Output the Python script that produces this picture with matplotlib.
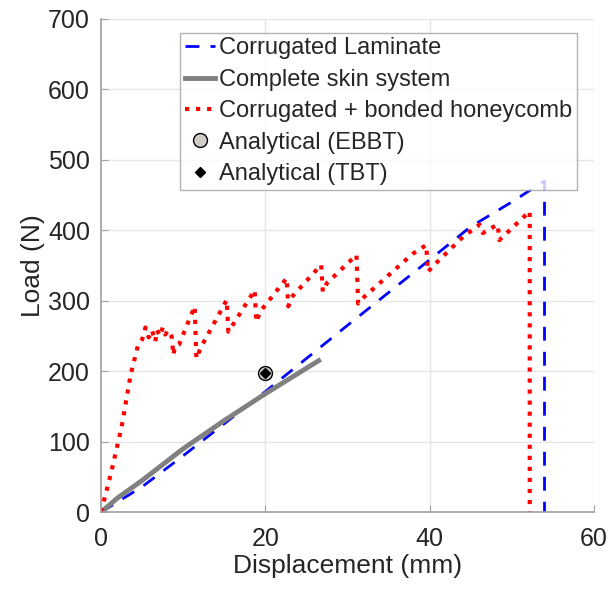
import numpy as np
import matplotlib.pyplot as plt

plt.rcParams['font.family'] = ['Liberation Sans', 'DejaVu Sans']

# Corrugated laminate (blue dashed)
lam_x = [0, 5, 10, 20, 30, 40, 45, 50, 54, 54]
lam_y = [0, 36, 80, 171, 265, 358, 405, 440, 470, 0]

# Complete skin system (grey solid)
skin_x = [0, 2, 5, 10, 15, 20, 26.5]
skin_y = [0, 20, 45, 90, 130, 168, 215]

# Corrugated + bonded honeycomb (red dotted)
hc_x = [0, 1.2, 2.5, 3.6, 4.5, 5.0, 5.4, 5.8, 6.2, 6.6, 6.8, 7.2, 7.5, 7.8, 8.2, 8.6, 8.8, 9.0, 9.5,
        11.4, 11.6, 12.2, 15.3, 15.5, 16.0, 18.7, 18.9, 19.4, 22.6, 22.8, 23.2,
        26.8, 27.0, 27.5, 31.1, 31.3, 32.0, 37.5, 38.0, 39.6, 39.8, 40.5,
        44.1, 46.1, 46.5, 47.0, 48.3, 48.5, 52.2, 52.2]
hc_y = [0, 55, 121, 195, 237, 245, 262, 248, 258, 242, 258, 250, 262, 252, 258, 249, 223, 235, 238,
        292, 218, 235, 301, 256, 265, 315, 270, 285, 332, 292, 305,
        351, 313, 325, 365, 296, 305, 362, 367, 379, 341, 350,
        391, 408, 396, 400, 408, 386, 427, 0]

# analytical points
ebbt_x, ebbt_y = [20], [198]
tbt_x, tbt_y = [20], [198]

fig, ax = plt.subplots(figsize=(6.09, 5.90), dpi=100)
fig.subplots_adjust(left=0.166, right=0.975, top=0.968, bottom=0.132)

ax.plot(lam_x, lam_y, '--', color='blue', lw=2, dashes=(5, 4), label='Corrugated Laminate')
ax.plot(skin_x, skin_y, '-', color='#808080', lw=3.5, label='Complete skin system')
ax.plot(hc_x, hc_y, ':', color='red', lw=3, label='Corrugated + bonded honeycomb')
ax.plot(ebbt_x, ebbt_y, 'o', ms=10, mfc='#d0ccc8', mec='black', mew=1,
        ls='none', label='Analytical (EBBT)')
ax.plot(tbt_x, tbt_y, 'D', ms=5, color='black', ls='none', label='Analytical (TBT)')

ax.set_xlim(0, 60)
ax.set_ylim(0, 700)
ax.set_xticks([0, 20, 40, 60])
ax.set_yticks(range(0, 701, 100))
ax.grid(True, color='#e6e6e6', lw=1)
ax.set_axisbelow(True)

for s in ['top', 'right']:
    ax.spines[s].set_visible(False)
for s in ['left', 'bottom']:
    ax.spines[s].set_color('#a0a0a0')
    ax.spines[s].set_linewidth(1.2)
ax.tick_params(direction='in', length=5, color='#a0a0a0', labelsize=18,
               labelcolor='#262626')
ax.tick_params(axis='x', pad=11)
ax.tick_params(axis='y', pad=8)

ax.set_xlabel('Displacement (mm)', fontsize=19, color='#262626', labelpad=2)
ax.set_ylabel('Load (N)', fontsize=19, color='#262626', labelpad=2)

leg = ax.legend(loc='upper left', bbox_to_anchor=(0.16, 0.972), fontsize=17,
                frameon=True, fancybox=False, edgecolor='#a0a0a0',
                handlelength=1.3, handletextpad=0.15, borderpad=0.2,
                labelspacing=0.4, borderaxespad=0)
leg.get_frame().set_linewidth(1)
for t in leg.get_texts():
    t.set_color('#262626')

fig.savefig('out.png')
